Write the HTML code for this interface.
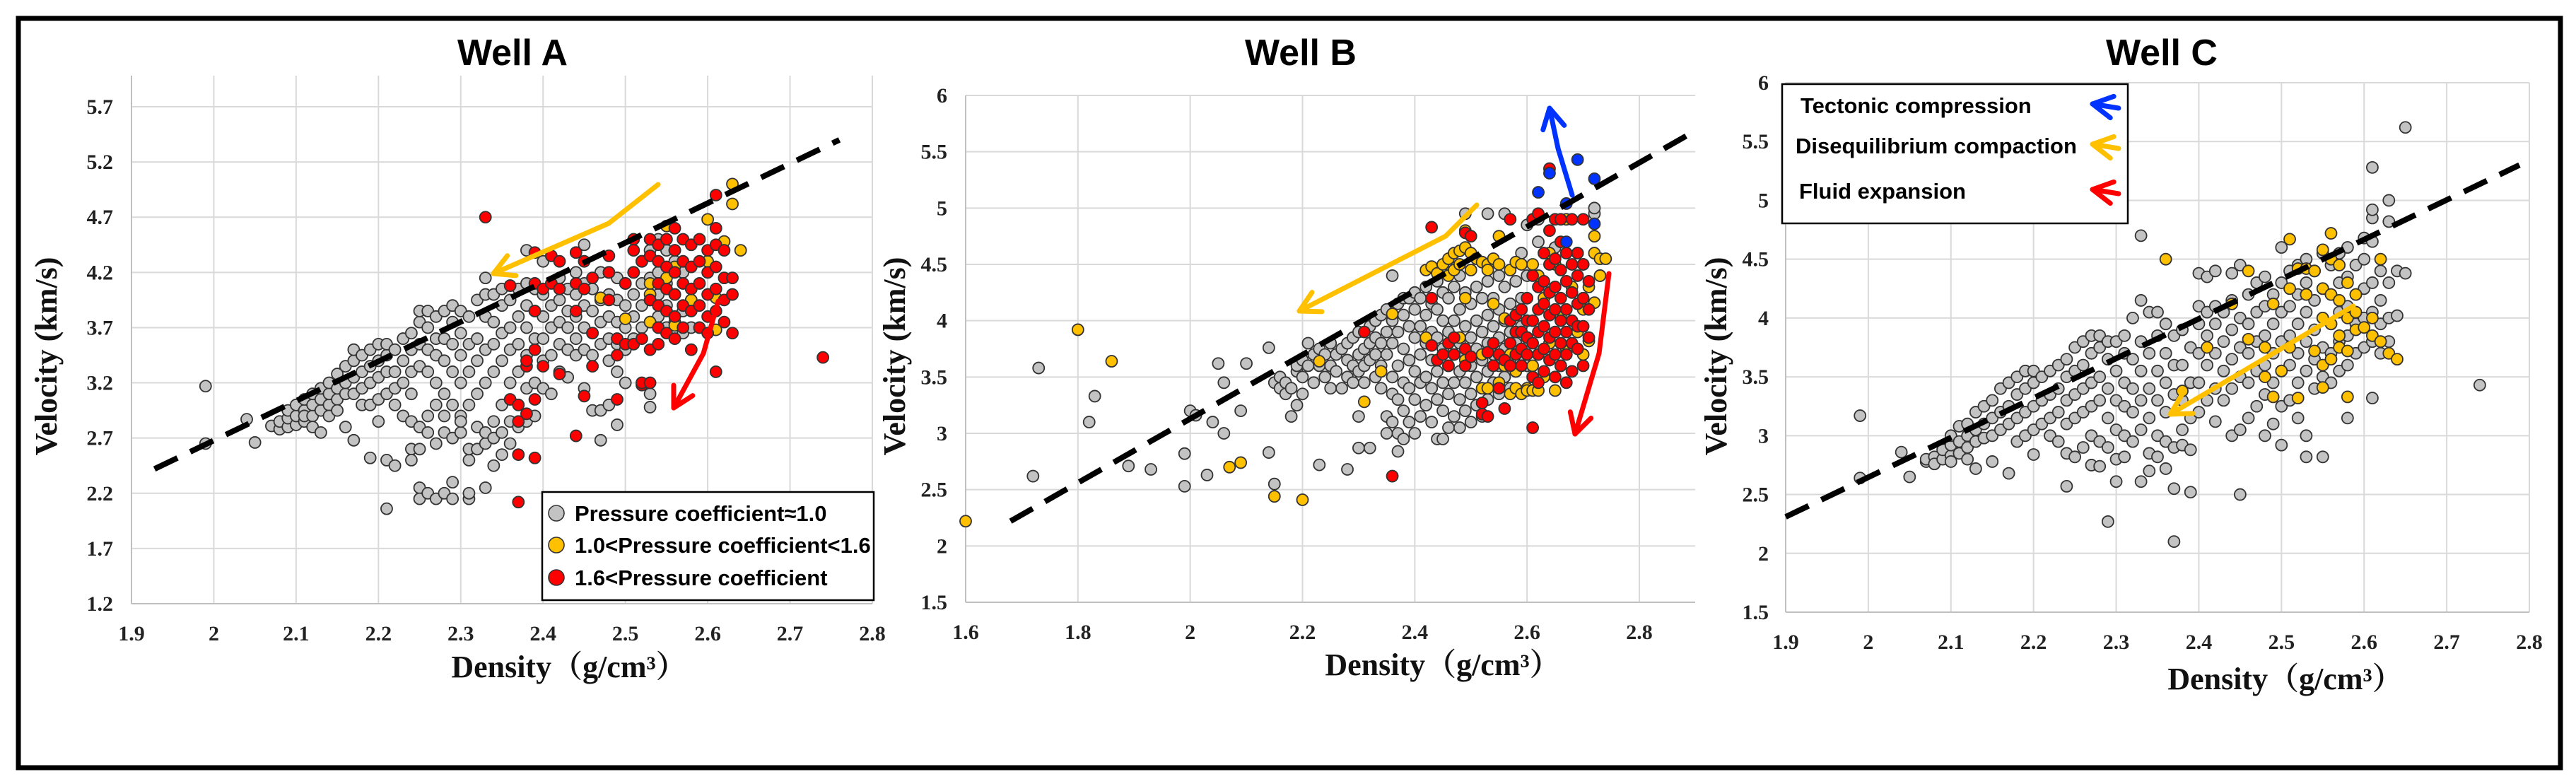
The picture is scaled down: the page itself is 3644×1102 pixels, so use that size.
<!DOCTYPE html>
<html><head><meta charset="utf-8">
<style>
html,body{margin:0;padding:0;background:#fff;}
svg{display:block;}
.tick{font-family:"Liberation Serif",serif;font-weight:bold;font-size:30px;fill:#222;}
.atitle{font-family:"Liberation Serif","Noto Serif CJK SC",serif;font-weight:bold;font-size:44px;fill:#111;}
.ptitle{font-family:"Liberation Sans",sans-serif;font-weight:bold;font-size:52px;fill:#000;}
.leg{font-family:"Liberation Sans",sans-serif;font-weight:bold;font-size:31px;fill:#000;}
</style></head>
<body>
<svg id="fig" width="3644" height="1102" viewBox="0 0 3644 1102" xmlns="http://www.w3.org/2000/svg">
<rect x="0" y="0" width="3644" height="1102" fill="#fff"/>
<rect x="26" y="26" width="3596" height="1060" fill="none" stroke="#000" stroke-width="7"/>
<g id="pA"></g>
<g id="pB"></g>
<g id="pC"></g>
</svg>
<script>
// ---------- data: rows of [density, [velocities...]] ----------
const aGrey=[[1.99,[3.17,2.65]],[2.04,[2.87]],[2.05,[2.66]],[2.07,[2.81]],[2.08,[2.78,2.85]],[2.09,[2.8,2.88,2.95]],[2.10,[2.82,2.9,3.0]],[2.11,[2.85,2.95,3.05,2.9]],[2.12,[2.9,3.0,3.1,2.8]],[2.13,[2.95,3.05,3.15,2.75]],[2.14,[3.0,3.1,3.2,2.9]],[2.15,[3.05,3.15,3.28,2.95]],[2.16,[3.1,3.2,3.35,2.8]],[2.17,[3.1,3.25,3.4,3.5,2.68]],[2.18,[3.15,3.3,3.45,3.0]],[2.19,[3.0,3.2,3.35,3.5,2.52]],[2.20,[3.05,3.25,3.4,3.55,2.85]],[2.21,[3.1,3.3,3.45,3.55,2.5,2.06]],[2.22,[3.15,3.3,3.5,2.45,3.0]],[2.23,[3.2,3.4,3.6,2.9]],[2.24,[2.6,2.5,3.1,3.3,3.5,3.65,2.85]],[2.25,[2.25,2.15,2.6,3.35,3.55,3.75,3.85,2.8]],[2.26,[2.2,2.75,3.3,3.5,3.7,3.85,2.9]],[2.27,[2.15,2.65,3.2,3.45,3.6,3.8,3.0]],[2.28,[2.2,2.75,3.1,3.4,3.6,3.85,2.9]],[2.29,[2.3,2.15,2.7,3.0,3.3,3.55,3.75,3.9]],[2.30,[2.75,2.9,3.2,3.45,3.65,3.85,2.85]],[2.31,[2.15,2.2,2.5,2.6,3.0,3.3,3.55,3.8]],[2.32,[2.6,2.8,3.1,3.4,3.6,3.95]],[2.33,[2.25,2.65,2.75,3.2,3.5,3.8,4.15,4.0]],[2.34,[2.45,2.7,2.85,3.3,3.55,3.75,4.0]],[2.35,[2.55,2.75,3.0,3.4,3.65,3.9,4.05]],[2.36,[2.65,2.85,3.2,3.5,3.7,3.95]],[2.37,[2.8,3.3,3.55,3.8,4.05]],[2.38,[2.85,3.15,3.45,3.7,3.9,4.1,4.4]],[2.39,[2.9,3.2,3.6,3.85,4.05]],[2.40,[3.15,3.4,3.6,3.8,4.0,4.3]],[2.41,[3.1,3.45,3.7,3.9]],[2.42,[3.3,3.55,3.75,3.95,4.15]],[2.43,[3.25,3.5,3.7,3.85,4.05]],[2.44,[3.45,3.6,3.8,4.0,4.2]],[2.45,[3.15,3.5,3.7,3.9,4.1,4.45]],[2.46,[2.95,3.45,3.65,3.85,4.05]],[2.47,[2.68,2.95,3.55,3.75,3.95,4.2]],[2.48,[3.0,3.4,3.6,3.8,4.0,4.2]],[2.49,[2.82,3.3,3.55,3.75,3.95,4.15]],[2.50,[3.2,3.5,3.7,3.9,4.1]],[2.51,[3.6,3.8,4.0,4.2]],[2.52,[3.7,3.9,4.1,4.3]],[2.53,[2.98,3.1,3.75,3.95,4.15,4.4]],[2.54,[3.8,4.0,4.2,4.5]],[2.55,[3.7,3.9,4.1,4.4]],[2.56,[3.75,4.0,4.3]],[2.57,[3.65,3.85,4.2]],[2.58,[3.7,3.95]]];
const aYellow=[[2.47,[3.97]],[2.50,[3.78]],[2.53,[4.0,3.75,4.1]],[2.55,[4.62,4.15]],[2.56,[4.4,4.25,3.72]],[2.58,[3.95,4.05]],[2.60,[4.68,4.3]],[2.61,[3.68,3.97]],[2.62,[4.48]],[2.63,[5.0,4.82]],[2.64,[4.4]]];
const aRed=[[2.33,[4.7]],[2.36,[3.05,4.08]],[2.37,[2.55,2.12,2.85,3.0]],[2.38,[3.35,3.4,2.92]],[2.39,[2.52,3.05,3.5,3.85,4.1,4.38]],[2.40,[4.05,3.35]],[2.41,[4.35,4.1]],[2.42,[4.3,4.05,3.28]],[2.44,[2.72,4.38,3.85,4.1]],[2.45,[3.08,4.3,4.05]],[2.46,[3.65,3.35,4.15]],[2.48,[4.35,4.2,3.95]],[2.49,[3.05,3.45,3.6]],[2.50,[3.55,4.1]],[2.51,[4.5,4.4,4.2,3.55]],[2.52,[3.18,3.2,3.6,4.3]],[2.53,[4.5,4.35,3.95,3.2,3.5]],[2.54,[4.45,4.3,4.1,3.9,3.7,3.55]],[2.55,[4.5,4.25,4.05,3.85,3.65]],[2.56,[4.6,4.4,4.2,4.0,3.8,3.6]],[2.57,[4.5,4.3,4.1,3.9,3.7]],[2.58,[4.45,4.25,4.05,3.85,3.5]],[2.59,[4.5,4.3,4.1,3.9,3.7]],[2.60,[4.4,4.2,4.0,3.8,3.65]],[2.61,[4.9,4.6,4.45,4.25,4.05,3.85,3.3]],[2.62,[4.4,4.15,3.95,3.75]],[2.63,[4.15,4.0,3.65]],[2.74,[3.43]]];
const aTrend=[[1.928,2.42],[2.76,5.4]];

const bGrey=[[1.72,[2.62]],[1.73,[3.58]],[1.82,[3.1]],[1.83,[3.33]],[1.89,[2.71]],[1.93,[2.68]],[1.99,[2.53,2.82]],[2.0,[3.2]],[2.01,[3.16]],[2.03,[2.63]],[2.04,[3.1]],[2.05,[3.62]],[2.06,[3.45,3.0]],[2.09,[3.2]],[2.1,[3.62]],[2.14,[2.83,3.76]],[2.15,[3.45,2.55]],[2.16,[3.5,3.4]],[2.17,[3.35,3.45]],[2.18,[3.4,3.15]],[2.19,[3.25,3.55,3.6]],[2.2,[3.5,3.65,3.35]],[2.21,[3.8,3.6]],[2.22,[3.45,3.7]],[2.23,[2.72,3.6,3.75]],[2.24,[3.7,3.5]],[2.25,[3.6,3.8,3.4]],[2.26,[3.7,3.55]],[2.27,[3.75,3.4]],[2.28,[2.68,3.65,3.8,3.5]],[2.29,[3.6,3.85,3.45]],[2.30,[2.87,3.15,3.7,3.55,3.9]],[2.31,[3.75,3.6,3.45]],[2.32,[2.87,3.8,3.95,3.65]],[2.33,[3.7,3.85,3.5,4.0]],[2.34,[3.6,3.8,4.05,3.4]],[2.35,[3.15,3.0,3.7,3.9,4.1]],[2.36,[3.1,3.35,3.5,3.8,4.0,4.4]],[2.37,[2.84,3.0,3.3,3.6,3.9,4.15]],[2.38,[2.95,3.2,3.45,3.75,4.05,4.2]],[2.39,[3.1,3.4,3.65,3.95,4.2]],[2.40,[3.0,3.3,3.55,3.85,4.1,4.25]],[2.41,[3.15,3.45,3.7,3.95,4.2]],[2.42,[3.25,3.5,3.8,4.05,4.3]],[2.43,[3.1,3.4,3.65,3.9,4.15]],[2.44,[2.95,3.3,3.55,3.85,4.1,4.35]],[2.45,[2.95,3.2,3.45,3.75,4.0,4.25]],[2.46,[3.05,3.35,3.6,3.9,4.2,4.5]],[2.47,[3.15,3.45,3.7,4.0,4.3]],[2.48,[3.05,3.3,3.55,3.8,4.1,4.4]],[2.49,[3.2,3.45,3.7,3.95,4.25,4.95]],[2.50,[3.1,3.35,3.6,3.85,4.15]],[2.51,[3.25,3.5,3.75,4.0,4.3]],[2.52,[3.15,3.4,3.65,3.9,4.2]],[2.53,[3.3,3.55,3.8,4.05,4.35,4.95]],[2.54,[3.45,3.7,3.95,4.2]],[2.55,[3.35,3.6,3.85,4.1,4.4]],[2.56,[3.5,3.75,4.0,4.3,4.95]],[2.57,[3.4,3.65,3.9,4.15]],[2.58,[3.55,3.8,4.05,4.35]],[2.59,[3.7,3.95,4.2,4.6]],[2.60,[3.6,3.85,4.4,4.85]],[2.62,[4.7,4.9]],[2.65,[4.65]],[2.72,[4.95,5.0]],[2.73,[4.4]]];
const bYellow=[[1.6,[2.22]],[1.8,[3.92]],[1.86,[3.64]],[2.07,[2.7]],[2.09,[2.74]],[2.15,[2.44]],[2.2,[2.41]],[2.23,[3.64]],[2.31,[3.28]],[2.34,[3.55]],[2.36,[4.06]],[2.42,[4.45,3.85]],[2.43,[4.48]],[2.44,[4.42]],[2.45,[4.5]],[2.46,[4.55,4.4]],[2.47,[4.6,4.45]],[2.48,[4.5,4.62,3.85]],[2.49,[4.8,4.65,4.2,3.65]],[2.50,[4.6,4.45]],[2.51,[4.55]],[2.52,[4.52,3.4,3.7]],[2.53,[4.5,4.45,3.4]],[2.54,[4.55,4.15]],[2.55,[4.5,4.75,3.45]],[2.56,[4.02,3.6]],[2.57,[4.45,3.35,3.7]],[2.58,[4.52,3.4,3.55]],[2.59,[4.5,3.35]],[2.60,[3.4,3.38]],[2.61,[4.5,3.38,3.6]],[2.62,[4.4,3.38,3.7]],[2.63,[3.5,4.2]],[2.64,[4.6,3.8]],[2.65,[3.38,4.5]],[2.66,[4.05,3.6]],[2.67,[4.9,3.75]],[2.68,[4.3,3.55]],[2.69,[4.6,3.9]],[2.70,[4.5,3.7,4.1]],[2.71,[4.3,3.82]],[2.72,[4.75,4.6,4.16]],[2.73,[4.55,4.4]],[2.74,[4.55]]];
const bRed=[[2.31,[3.9]],[2.36,[2.62]],[2.43,[4.83,4.2,3.78]],[2.44,[3.65]],[2.45,[3.7]],[2.46,[3.6,3.8]],[2.47,[3.85,3.7]],[2.49,[3.75,3.6,4.78]],[2.50,[4.75,3.68]],[2.52,[3.27,3.17]],[2.53,[3.72,3.15]],[2.54,[3.8,3.6]],[2.55,[3.4,3.7]],[2.56,[3.22,3.65]],[2.57,[4.9,3.8,3.6,4.0]],[2.58,[3.9,3.7,4.05]],[2.59,[3.75,4.1,3.6,3.9]],[2.60,[3.85,4.0,4.2,3.7]],[2.61,[4.9,4.4,3.05,3.5,3.8,4.0]],[2.62,[4.95,4.3,4.1,3.9,3.7,3.45]],[2.63,[4.6,4.35,4.15,3.95,3.75,3.55]],[2.64,[4.8,4.5,4.25,4.05,3.85,3.65,5.35]],[2.65,[4.9,4.55,4.3,4.1,3.9,3.7,3.5]],[2.66,[4.7,4.45,4.2,4.0,3.8,3.6,4.9]],[2.67,[4.6,4.35,4.1,3.9,3.7,3.45]],[2.68,[4.9,4.5,4.25,4.0,3.8,3.55]],[2.69,[4.6,4.4,4.15,3.95,3.75]],[2.70,[4.5,4.2,3.95,3.6,4.9]],[2.71,[4.35,4.1,3.85]]];
const bBlue=[[2.62,[5.14]],[2.64,[5.31]],[2.67,[5.04,4.7]],[2.69,[5.43]],[2.72,[5.26,4.86]]];
const bTrend=[[1.68,2.22],[2.894,5.67]];

const cGrey=[[1.99,[3.17,2.64]],[2.04,[2.86]],[2.05,[2.65]],[2.07,[2.78,2.8]],[2.08,[2.82,2.76]],[2.09,[2.8,2.88]],[2.10,[2.83,2.92,3.0,2.78]],[2.11,[2.85,2.95,3.08]],[2.12,[2.9,3.0,3.1,2.8]],[2.13,[2.72,2.95,3.05,3.2]],[2.14,[2.98,3.1,3.25]],[2.15,[2.78,3.0,3.15,3.3]],[2.16,[3.05,3.2,3.4]],[2.17,[2.68,3.1,3.25,3.45]],[2.18,[2.95,3.15,3.35,3.5]],[2.19,[3.0,3.2,3.4,3.55]],[2.20,[2.84,3.05,3.25,3.45,3.55]],[2.21,[3.1,3.3,3.5]],[2.22,[3.0,3.15,3.35,3.55]],[2.23,[2.95,3.2,3.4,3.6]],[2.24,[2.57,2.85,3.1,3.3,3.5,3.65]],[2.25,[2.82,3.15,3.35,3.55,3.75]],[2.26,[2.9,3.2,3.4,3.6,3.8]],[2.27,[2.75,3.0,3.25,3.45,3.7,3.85]],[2.28,[2.74,2.95,3.3,3.5,3.75,3.85]],[2.29,[2.27,2.9,3.15,3.4,3.65,3.8]],[2.30,[2.61,2.8,3.05,3.3,3.55,3.8]],[2.31,[2.82,3.0,3.25,3.45,3.7,3.85]],[2.32,[2.95,3.2,3.4,3.65,4.0]],[2.33,[2.61,3.05,3.3,3.55,3.8,4.15,4.7]],[2.34,[2.7,2.85,3.15,3.4,3.7,4.05]],[2.35,[2.82,3.0,3.3,3.55,3.85,4.05]],[2.36,[2.72,2.95,3.2,3.45,3.7,3.95]],[2.37,[2.1,2.55,2.9,3.35,3.6,3.85]],[2.38,[2.92,3.05,3.3,3.6,3.9]],[2.39,[2.52,2.88,3.15,3.45,3.75]],[2.40,[3.2,3.45,3.7,3.95,4.1,4.38]],[2.41,[3.3,3.6,3.85,4.05,4.35]],[2.42,[3.12,3.4,3.7,3.95,4.1,4.4]],[2.43,[3.3,3.55,3.8,4.05]],[2.44,[3.0,3.4,3.65,3.9,4.15,4.38]],[2.45,[2.5,3.05,3.5,3.75,4.0,4.45]],[2.46,[3.15,3.45,3.7,3.95,4.2]],[2.47,[3.25,3.55,3.8,4.05,4.3]],[2.48,[3.0,3.35,3.6,3.85,4.1,4.35]],[2.49,[3.1,3.45,3.7,3.95,4.2]],[2.50,[2.92,3.25,3.55,3.8,4.05,4.3,4.6]],[2.51,[3.3,3.6,3.85,4.1,4.4]],[2.52,[3.15,3.45,3.7,3.95,4.2,4.45]],[2.53,[2.82,3.0,3.55,3.8,4.05,4.3,4.5]],[2.54,[3.4,3.65,3.9,4.15,4.4]],[2.55,[2.82,3.5,3.75,4.0,4.25,4.55]],[2.56,[3.45,3.7,3.95,4.2,4.45]],[2.57,[3.55,3.8,4.05,4.3,4.55]],[2.58,[3.15,3.6,3.85,4.1,4.35,4.6]],[2.59,[3.7,3.95,4.2,4.45]],[2.60,[3.75,4.0,4.25,4.5,4.68]],[2.61,[3.32,3.8,4.05,4.3,4.85,4.92,5.28,4.65]],[2.62,[3.7,3.95,4.15,4.4]],[2.63,[3.8,4.0,4.3,4.82,5.0]],[2.64,[4.02,4.4]],[2.65,[4.38,5.62]],[2.74,[3.43]]];
const cYellow=[[2.36,[4.5]],[2.38,[3.38]],[2.41,[3.75]],[2.44,[4.12]],[2.46,[4.4,3.82]],[2.48,[3.75,3.5]],[2.49,[4.12,3.33]],[2.50,[3.55]],[2.51,[4.25,4.67,3.75]],[2.52,[4.42,3.32]],[2.53,[4.42,4.2]],[2.54,[4.4,3.72]],[2.55,[4.58,4.25,4.0,3.6,3.41]],[2.56,[4.72,4.5,4.2,3.95,3.65]],[2.57,[4.45,4.15,3.85,3.75]],[2.58,[4.3,4.0,3.72,3.33]],[2.59,[4.2,3.9,4.05]],[2.60,[3.92]],[2.61,[4.0,3.85]],[2.62,[4.5,3.8]],[2.63,[3.7]],[2.64,[3.65]]];
const cTrend=[[1.9,2.31],[2.788,5.30]];

const aXTicks=["1.9","2","2.1","2.2","2.3","2.4","2.5","2.6","2.7","2.8"];
const aYTicks=["1.2","1.7","2.2","2.7","3.2","3.7","4.2","4.7","5.2","5.7"];
const bXTicks=["1.6","1.8","2","2.2","2.4","2.6","2.8"];
const bYTicks=["1.5","2","2.5","3","3.5","4","4.5","5","5.5","6"];
const cXTicks=["1.9","2","2.1","2.2","2.3","2.4","2.5","2.6","2.7","2.8"];
const cYTicks=["1.5","2","2.5","3","3.5","4","4.5","5","5.5","6"];

const NS="http://www.w3.org/2000/svg";
function mk(parent,tag,attrs){const e=document.createElementNS(NS,tag);for(const k in attrs)e.setAttribute(k,attrs[k]);parent.appendChild(e);return e;}

function panel(g,cfg){
  const sx=d=>cfg.x0+(d-cfg.dmin)/(cfg.dmax-cfg.dmin)*(cfg.x1-cfg.x0);
  const sy=v=>cfg.y0-(v-cfg.vmin)/(cfg.vmax-cfg.vmin)*(cfg.y0-cfg.y1);
  cfg.xTicks.forEach(t=>{const x=sx(+t);
    const l=mk(g,'line',{x1:x,x2:x,y1:cfg.top,y2:cfg.y0,stroke:'#d9d9d9','stroke-width':2});
    
    
    const tx=mk(g,'text',{x:x,y:cfg.y0+52,'text-anchor':'middle',class:'tick'});tx.textContent=t;
    
    });
  cfg.yTicks.forEach(t=>{const y=sy(+t);
    const l=mk(g,'line',{x1:cfg.x0,x2:cfg.xr,y1:y,y2:y,stroke:'#d9d9d9','stroke-width':2});
    
    
    const tx=mk(g,'text',{x:cfg.ylx,y:y+10,'text-anchor':'end',class:'tick'});tx.textContent=t;
    
    });
  const ax=mk(g,'line',{x1:cfg.x0,x2:cfg.xr,y1:cfg.y0,y2:cfg.y0,stroke:'#bfbfbf','stroke-width':2});
  
  
  const ay=mk(g,'line',{x1:cfg.x0,x2:cfg.x0,y1:cfg.top,y2:cfg.y0,stroke:'#bfbfbf','stroke-width':2});
  
  
  cfg.series.forEach(s=>{
    const sg=mk(g,'g',{});
    
    
    s.data.forEach(row=>row[1].forEach(v=>{
      const c=mk(sg,'circle',{cx:sx(row[0]),cy:sy(v),r:8,fill:s.fill,stroke:'#333','stroke-width':1.8});
      
      
    }));
  });
  const t=cfg.trend;
  const tl=mk(g,'line',{x1:sx(t[0][0]),y1:sy(t[0][1]),x2:sx(t[1][0]),y2:sy(t[1][1]),stroke:'#000','stroke-width':8,'stroke-dasharray':'36 20'});
  
  
  const ti=mk(g,'text',{x:cfg.tx,y:92,'text-anchor':'middle',class:'ptitle'});ti.textContent=cfg.title;
  
  
  const xt=mk(g,'text',{x:cfg.xtx,y:cfg.xty,'text-anchor':'middle',class:'atitle'});xt.textContent='Density（g/cm³）';
  
  
  const yt=mk(g,'text',{x:0,y:0,'text-anchor':'middle',class:'atitle',transform:`translate(${cfg.ytx},504) rotate(-90)`});yt.textContent='Velocity (km/s)';
  
  
}

function arrow(g,pts,color,name){
  const d='M'+pts.map(p=>p.join(',')).join(' L');
  const p=mk(g,'path',{d:d,fill:'none',stroke:color,'stroke-width':7,'stroke-linecap':'round','stroke-linejoin':'round'});
  
  
  const a=pts[pts.length-1],b=pts[pts.length-2];
  const ang=Math.atan2(a[1]-b[1],a[0]-b[0]);const L=32;
  const h=mk(g,'path',{d:`M${a[0]-L*Math.cos(ang-0.5)},${a[1]-L*Math.sin(ang-0.5)} L${a[0]},${a[1]} L${a[0]-L*Math.cos(ang+0.5)},${a[1]-L*Math.sin(ang+0.5)}`,fill:'none',stroke:color,'stroke-width':7,'stroke-linecap':'round','stroke-linejoin':'round'});
  
  
}

const GREY='#c3c3c3',YEL='#ffc000',RED='#ff0000',BLUE='#0033ff';
const gA=document.getElementById('pA'),gB=document.getElementById('pB'),gC=document.getElementById('pC');
panel(gA,{x0:186,x1:1234,xr:1234,dmin:1.9,dmax:2.8,y0:854,y1:151,vmin:1.2,vmax:5.7,top:107,ylx:160,
  xTicks:aXTicks,yTicks:aYTicks,trend:aTrend,title:'Well A',tx:725,xtx:805,xty:958,ytx:80,
  series:[{name:'series-pressure-1',data:aGrey,fill:GREY},{name:'series-pressure-1-1.6',data:aYellow,fill:YEL},{name:'series-pressure-gt-1.6',data:aRed,fill:RED}]});
panel(gB,{x0:1366,x1:2319,xr:2398,dmin:1.6,dmax:2.8,y0:852,y1:135,vmin:1.5,vmax:6,top:135,ylx:1340,
  xTicks:bXTicks,yTicks:bYTicks,trend:bTrend,title:'Well B',tx:1840,xtx:2041,xty:955,ytx:1280,
  series:[{name:'series-pressure-1',data:bGrey,fill:GREY},{name:'series-pressure-1-1.6',data:bYellow,fill:YEL},{name:'series-pressure-gt-1.6',data:bRed,fill:RED},{name:'series-tectonic',data:bBlue,fill:BLUE}]});
panel(gC,{x0:2526,x1:3578,xr:3578,dmin:1.9,dmax:2.8,y0:866,y1:117,vmin:1.5,vmax:6,top:117,ylx:2502,
  xTicks:cXTicks,yTicks:cYTicks,trend:cTrend,title:'Well C',tx:3058,xtx:3233,xty:975,ytx:2442,
  series:[{name:'series-pressure-1',data:cGrey,fill:GREY},{name:'series-pressure-1-1.6',data:cYellow,fill:YEL}]});

arrow(gA,[[931,261],[861,316],[698,387]],YEL,'arrow-compaction-a');
arrow(gA,[[1016,426],[995,500],[953,577]],RED,'arrow-fluid-a');
arrow(gB,[[2089,290],[2045,334],[1838,440]],YEL,'arrow-compaction-b');
arrow(gB,[[2224,276],[2204,210],[2192,153]],BLUE,'arrow-tectonic-b');
arrow(gB,[[2276,387],[2262,500],[2228,614]],RED,'arrow-fluid-b');
arrow(gC,[[3329,433],[3070,586]],YEL,'arrow-compaction-c');

const lgA=mk(gA,'g',{});


mk(lgA,'rect',{x:767,y:696,width:469,height:153,fill:'#fff',stroke:'#000','stroke-width':2.5});
[[726,GREY,'Pressure coefficient≈1.0'],[771,YEL,'1.0<Pressure coefficient<1.6'],[817,RED,'1.6<Pressure coefficient']].forEach(e=>{
  const c=mk(lgA,'circle',{cx:787,cy:e[0],r:11,fill:e[1],stroke:'#333','stroke-width':1.6});
  
  
  const t=mk(lgA,'text',{x:813,y:e[0]+11,class:'leg'});t.textContent=e[2];
  
  
});
const lgC=mk(gC,'g',{});


mk(lgC,'rect',{x:2521,y:119,width:489,height:197,fill:'#fff',stroke:'#000','stroke-width':2.5});
[[149,'Tectonic compression',BLUE,2547],[206,'Disequilibrium compaction',YEL,2540],[270,'Fluid expansion',RED,2545]].forEach(e=>{
  const t=mk(lgC,'text',{x:e[3],y:e[0]+11,class:'leg'});t.textContent=e[1];
  
  
  arrow(lgC,[[2997,e[0]+4],[2960,e[0]-2]],e[2],'legend-arrow');
});
</script>
</body></html>
